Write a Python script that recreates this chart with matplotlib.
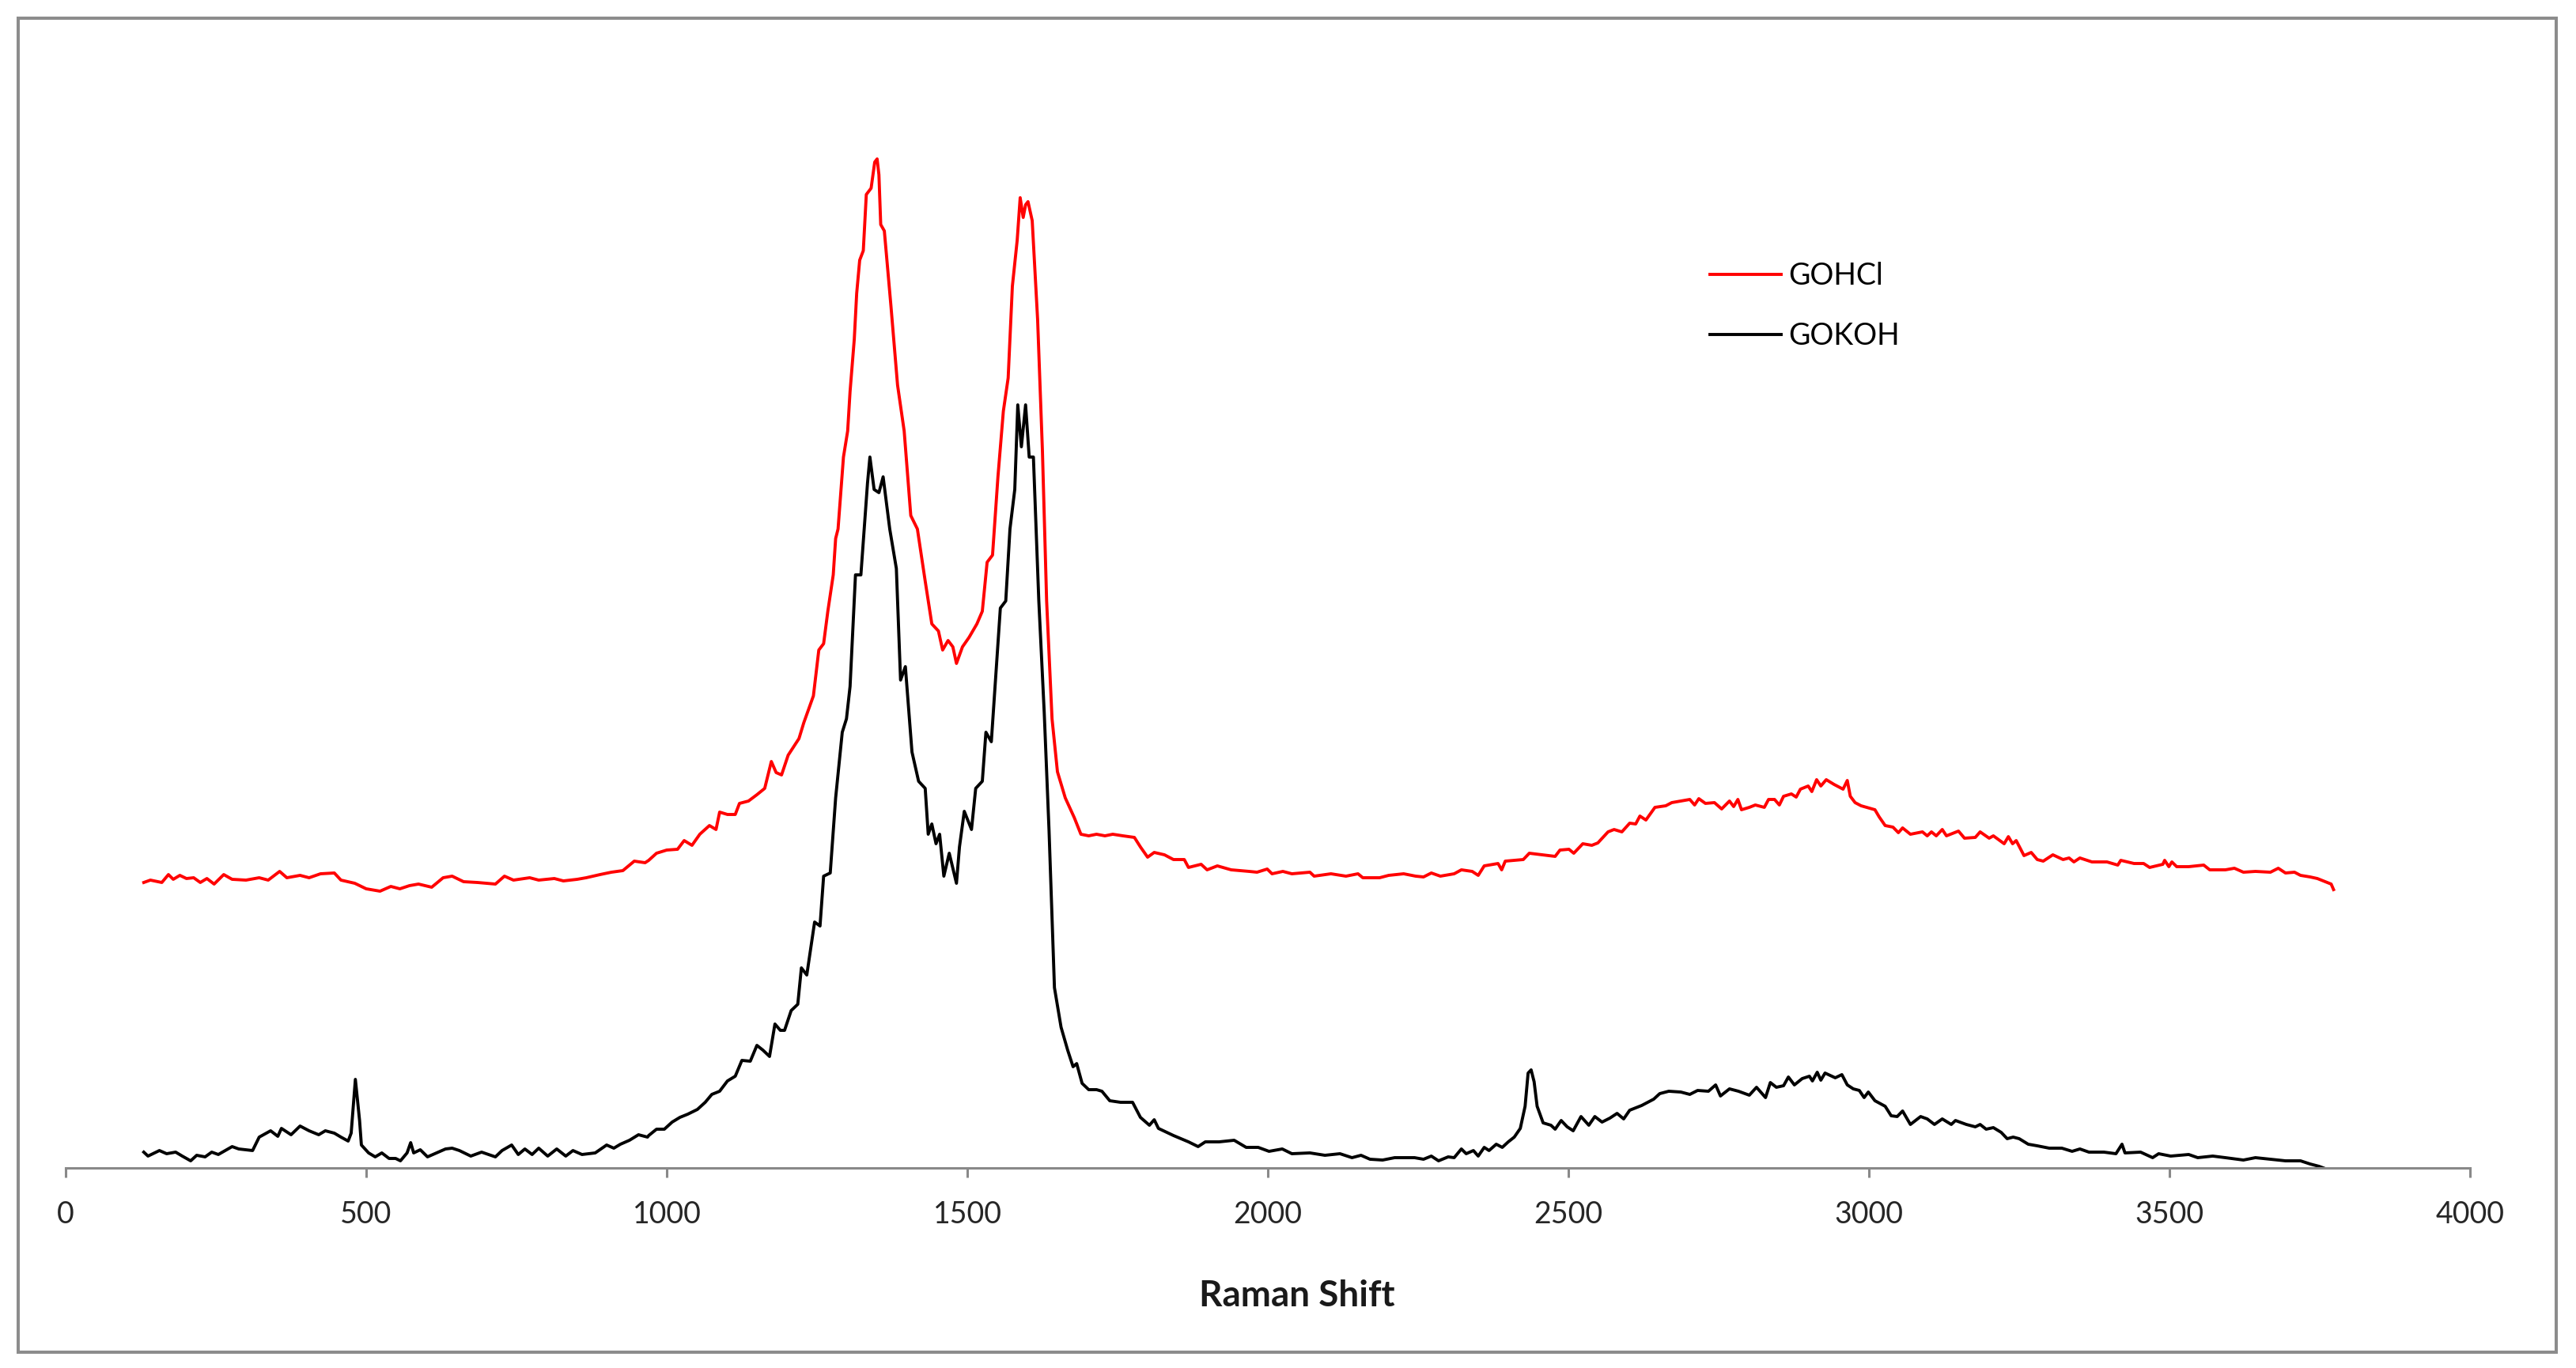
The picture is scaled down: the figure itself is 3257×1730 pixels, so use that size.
import matplotlib
matplotlib.use("Agg")
import matplotlib.pyplot as plt
from matplotlib.patches import Rectangle

# Raman spectra (intensity in arbitrary units)
gohcl_shift = [130, 141, 160, 171, 179, 190, 201, 213, 224, 235, 247, 263, 277, 300, 322, 337, 356, 368, 390, 405, 424, 447, 458, 481, 500, 523, 541, 556, 572, 587, 609, 628, 643, 662, 685, 715, 730, 745, 772, 787, 813, 828, 851, 866, 889, 908, 927, 946, 964,
               970, 983, 1000, 1018, 1029, 1042, 1055, 1071, 1082, 1088, 1101, 1114, 1121, 1136, 1150, 1163, 1174, 1182, 1191, 1202, 1220, 1228, 1244, 1253, 1261, 1268, 1277, 1281, 1285, 1294, 1301, 1305, 1312, 1316, 1321, 1327, 1332, 1340, 1346, 1350, 1353, 1356, 1362,
               1373, 1384, 1395, 1406, 1417, 1430, 1441, 1452, 1459, 1468, 1476, 1482, 1492, 1503, 1516, 1525, 1533, 1542, 1551, 1560, 1568, 1575, 1583, 1588, 1593, 1597, 1601, 1608, 1617, 1625, 1632, 1641, 1650, 1663, 1678, 1689, 1702, 1715, 1729, 1742, 1759,
               1778, 1788, 1800, 1811, 1828, 1843, 1861, 1868, 1889, 1899, 1916, 1939, 1969, 1982, 1999, 2007, 2025, 2040, 2070, 2077, 2105, 2130, 2150, 2158, 2186, 2201, 2226, 2246,
               2259, 2272, 2287, 2310, 2322, 2340, 2350, 2360, 2383, 2389, 2395, 2425, 2435, 2456, 2478, 2486, 2501, 2509, 2524, 2539, 2549, 2566, 2576, 2589, 2602, 2612, 2619, 2629, 2644, 2662, 2672, 2687, 2702, 2710, 2717, 2728, 2743, 2755, 2768, 2775, 2782, 2788, 2801, 2811, 2826, 2833, 2843, 2851, 2858, 2871, 2879, 2886, 2899, 2905, 2913, 2920, 2929, 2942, 2957, 2964, 2969, 2977, 2987, 3010, 3017, 3027, 3040,
               3049, 3056, 3069, 3089, 3097, 3104, 3112, 3122, 3129, 3149, 3159, 3177, 3185, 3200, 3207, 3225, 3232, 3239, 3245, 3258, 3270, 3280, 3290, 3306, 3323, 3333, 3341, 3351, 3371, 3396, 3414, 3419, 3441, 3457, 3467, 3489, 3492, 3499, 3504, 3512, 3532, 3557, 3567, 3593, 3608, 3623, 3643, 3668, 3681, 3693, 3708, 3718, 3734, 3746, 3759, 3769, 3773]
gohcl_int = [361, 364, 361, 371, 365, 370, 366, 367, 361, 366, 359, 371, 365, 364, 367, 364, 375, 367, 370, 367, 372, 373, 364, 360, 353, 350, 356, 353, 357, 359, 355, 367, 369, 362, 361, 359, 369, 364, 367, 364, 366, 363, 365, 367, 371, 374, 376, 388, 386,
             389, 398, 402, 403, 414, 408, 422, 433, 428, 450, 447, 447, 461, 464, 472, 480, 514, 500, 497, 522, 543, 563, 597, 655, 663, 704, 750, 796, 808, 899, 932, 982, 1048, 1106, 1148, 1160, 1231, 1239, 1272, 1276, 1256, 1193, 1185,
             1090, 990, 932, 825, 808, 742, 688, 679, 655, 667, 659, 638, 659, 671, 688, 704, 766, 775, 874, 957, 999, 1115, 1173, 1227, 1202, 1218, 1222, 1198, 1073, 907, 717, 568, 501, 468, 443, 422, 420, 422, 420, 422, 420,
             418, 406, 393, 399, 396, 390, 390, 380, 384, 377, 382, 377, 375, 374, 378, 372, 375, 372, 374, 369, 372, 369, 372, 367, 367, 370, 372, 369,
             368, 373, 369, 372, 377, 375, 370, 382, 385, 377, 388, 390, 398, 396, 394, 402, 403, 398, 410, 408, 411, 425, 428, 425, 436, 435, 445, 440, 456, 458, 462, 464, 466, 459, 467, 461, 462, 454, 464, 457, 466, 453, 456, 459, 456, 466, 466, 459, 470, 473, 469, 479, 483, 476, 491, 483, 491, 485, 479, 490, 470, 462, 458, 453, 444, 433, 431,
             424, 430, 422, 425, 420, 425, 420, 428, 420, 426, 417, 418, 425, 417, 420, 410, 419, 410, 414, 395, 399, 390, 388, 396, 390, 392, 387, 392, 387, 387, 383, 389, 385, 385, 380, 384, 389, 381, 387, 381, 381, 383, 377, 377, 379, 374, 375, 374, 379, 373, 374, 370, 368, 366, 362, 359, 352]

gokoh_shift = [130, 137, 156, 168, 183, 194, 208, 218, 232, 243, 254, 277, 288, 311, 322, 341, 353, 359, 375, 390, 405, 421, 432, 447, 458, 470, 475, 482, 489, 492, 504, 515, 526, 538, 549, 557, 568, 574, 579, 590, 602, 617, 632, 643, 655, 674, 692, 715, 726, 742, 753, 764, 776, 787, 802, 817, 832, 844, 859, 881, 900, 912, 923, 938, 953, 968,
               970, 983, 996, 1009, 1022, 1035, 1051, 1064, 1075, 1088, 1101, 1114, 1125, 1139, 1150, 1160, 1171, 1180, 1189, 1196, 1207, 1218, 1224, 1233, 1246, 1255, 1261, 1272, 1281, 1292, 1299, 1305, 1314, 1323, 1334, 1338, 1345, 1353, 1360,
               1371, 1382, 1389, 1397, 1408, 1419, 1430, 1435, 1441, 1448, 1454, 1461, 1470, 1482, 1487, 1495, 1507, 1514, 1525, 1531, 1540, 1555, 1564, 1571, 1579, 1584, 1590, 1597, 1603, 1610, 1619, 1628, 1636, 1645, 1656, 1667, 1676, 1682, 1691, 1702, 1715, 1724, 1737, 1755,
               1775, 1788, 1803, 1811, 1818, 1843, 1868, 1884, 1896, 1919, 1944, 1964, 1984, 2002, 2024, 2040, 2070, 2095, 2120, 2140, 2155, 2170, 2191, 2211, 2244,
               2259, 2272, 2284, 2300, 2310, 2322, 2330, 2342, 2350, 2360, 2368, 2380, 2390, 2400, 2410, 2420, 2428, 2433, 2438, 2443, 2448, 2458, 2471, 2478, 2488, 2498, 2508, 2521, 2534, 2544, 2556, 2569, 2581, 2592, 2602, 2622, 2642, 2652, 2667, 2687, 2702, 2715, 2733, 2745, 2753, 2768, 2783, 2801, 2813, 2828, 2836, 2846, 2858, 2866, 2876, 2889, 2901, 2906, 2914, 2920, 2927, 2944, 2955, 2964, 2974, 2984, 2992, 2999, 3010, 3027, 3037, 3047,
               3056, 3069, 3086, 3097, 3109, 3122, 3137, 3144, 3162, 3177, 3185, 3195, 3207, 3220, 3230, 3240, 3250, 3265, 3280, 3300, 3321, 3338, 3351, 3366, 3391, 3411, 3421, 3426, 3452, 3472, 3482, 3502, 3532, 3547, 3572, 3593, 3623, 3643, 3668, 3693, 3718, 3734, 3749, 3756]
gokoh_int = [20, 15, 22, 18, 20, 15, 9, 16, 14, 20, 17, 27, 24, 22, 39, 47, 40, 50, 42, 53, 47, 42, 47, 44, 39, 34, 44, 112, 60, 29, 19, 14, 19, 12, 12, 9, 19, 32, 19, 23, 14, 19, 24, 25, 22, 15, 20, 14, 22, 29, 17, 24, 17, 25, 15, 24, 15, 22, 17, 19, 29, 25, 30, 35, 42, 39,
             41, 49, 49, 58, 64, 68, 74, 83, 93, 97, 110, 116, 136, 135, 155, 149, 141, 182, 174, 174, 199, 207, 253, 244, 311, 306, 369, 373, 468, 551, 568, 609, 750, 750, 866, 899, 858, 854, 874,
             808, 758, 617, 634, 526, 489, 480, 422, 435, 410, 422, 369, 398, 360, 406, 451, 428, 480, 489, 551, 539, 708, 717, 808, 858, 965, 912, 965, 899, 899, 717, 576, 427, 228, 178, 149, 128, 132, 107, 99, 99, 97, 85, 83,
             83, 64, 54, 61, 50, 41, 33, 27, 33, 33, 35, 26, 26, 21, 24, 18, 19, 16, 18, 13, 16, 11, 10, 13, 13,
             11, 15, 9, 14, 13, 24, 18, 22, 15, 26, 22, 30, 26, 33, 39, 50, 78, 120, 124, 109, 78, 57, 54, 49, 60, 52, 47, 65, 54, 65, 58, 63, 69, 62, 73, 79, 87, 94, 97, 96, 93, 98, 97, 105, 91, 100, 97, 92, 102, 89, 108, 102, 104, 115, 105, 113, 116, 110, 121, 111, 120, 114, 118, 105, 100, 98, 89, 96, 85, 78, 66, 65,
             72, 55, 65, 62, 55, 62, 55, 60, 55, 52, 55, 49, 51, 45, 37, 39, 37, 30, 28, 25, 25, 21, 24, 20, 20, 18, 30, 19, 20, 13, 18, 15, 17, 13, 15, 13, 10, 13, 11, 9, 9, 5, 2, 0]

xticks = [0, 500, 1000, 1500, 2000, 2500, 3000, 3500, 4000]

plt.rcParams['font.family'] = ['Lato', 'DejaVu Sans']

W, H = 3257, 1730
fig = plt.figure(figsize=(W / 100, H / 100), dpi=100)
ax = fig.add_axes([83 / W, 253 / H, 3040 / W, 1417 / H])

ax.plot(gohcl_shift, gohcl_int, color='#ff0000', lw=2.8, label='GOHCl')
ax.plot(gokoh_shift, gokoh_int, color='black', lw=2.8, label='GOKOH')

ax.set_xlim(0, 4000)
ax.set_ylim(0, 1417)
ax.set_xticks(xticks)
ax.set_yticks([])
for s in ['top', 'right', 'left']:
    ax.spines[s].set_visible(False)
ax.spines['bottom'].set_color('#898989')
ax.spines['bottom'].set_linewidth(2.2)
ax.tick_params(axis='x', direction='out', length=8.6, width=2.2, color='#898989',
               labelsize=27, labelcolor='#262626', pad=21)

fig.text(1640 / W, 1 - 1639 / H, 'Raman Shift', fontsize=33, fontweight='bold',
         ha='center', va='center', color='#1a1a1a')

ax.legend(loc='upper left', bbox_to_anchor=(2162 / W, 1 - 331 / H), bbox_transform=fig.transFigure,
          frameon=False, fontsize=27, handlelength=2.4, handletextpad=0.25,
          labelspacing=1.06, borderpad=0, borderaxespad=0)

# grey chart border like the Excel chart area
fig.add_artist(Rectangle((23 / W, 1 - 1710 / H), 3209 / W, 1687 / H, transform=fig.transFigure,
                         fill=False, edgecolor='#8c8c8c', lw=2.9))

fig.savefig('out.png', dpi=100)
